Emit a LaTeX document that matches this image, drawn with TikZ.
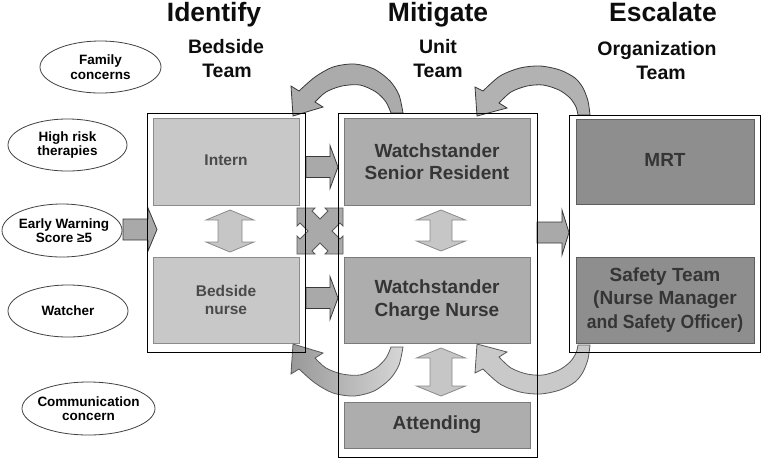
\documentclass[tikz,border=0pt]{standalone}
\usepackage{fontspec}
\setmainfont{Liberation Sans}
\usetikzlibrary{shapes.geometric}
\definecolor{bxL}{HTML}{C8C8C8}
\definecolor{bxLd}{HTML}{8C8C8C}
\definecolor{bxM}{HTML}{ADADAD}
\definecolor{bxMd}{HTML}{7A7A7A}
\definecolor{bxD}{HTML}{8E8E8E}
\definecolor{bxDd}{HTML}{5E5E5E}
\definecolor{txt}{HTML}{353535}
\definecolor{txtL}{HTML}{4A4A4A}
\definecolor{arF}{HTML}{A9A9A9}
\definecolor{arD}{HTML}{3A3A3A}
\definecolor{vaF}{HTML}{C6C6C6}
\definecolor{vaD}{HTML}{8A8A8A}
\newcommand\arrR[7]{\draw[#1] (#2,{#4-#5}) -- ({#3-#7},{#4-#5}) -- ({#3-#7},{#4-#6}) -- (#3,#4) -- ({#3-#7},{#4+#6}) -- ({#3-#7},{#4+#5}) -- (#2,{#4+#5}) -- cycle;}
\newcommand\arrUD[7]{\draw[#1] (#2,#3) -- ({#2+#6},{#3+#7}) -- ({#2+#5},{#3+#7}) -- ({#2+#5},{#4-#7}) -- ({#2+#6},{#4-#7}) -- (#2,#4) -- ({#2-#6},{#4-#7}) -- ({#2-#5},{#4-#7}) -- ({#2-#5},{#3+#7}) -- ({#2-#6},{#3+#7}) -- cycle;}
\begin{document}
\begin{tikzpicture}[x=1pt,y=-1pt,
  frame/.style={draw=black, line width=0.9pt, inner sep=0pt},
  ell/.style={ellipse, draw=black!75, line width=0.8pt, inner sep=0pt},
  elltext/.style={align=center, font=\fontsize{13.5}{14.5}\selectfont\bfseries, text=black},
  title/.style={font=\fontsize{26.5}{30}\selectfont\bfseries, text=black!95},
  subtitle/.style={font=\fontsize{19.5}{24}\selectfont\bfseries, text=black!95},
  boxL/.style={draw=bxLd, fill=bxL, line width=0.8pt, inner sep=0pt, text=txtL, align=center, font=\fontsize{15.5}{18}\selectfont\bfseries},
  boxM/.style={draw=bxMd, fill=bxM, line width=0.8pt, inner sep=0pt, text=txt, align=center, font=\fontsize{19}{22.5}\selectfont\bfseries},
  boxD/.style={draw=bxDd, fill=bxD, line width=0.8pt, inner sep=0pt, text=txt, align=center, font=\fontsize{19}{23.5}\selectfont\bfseries},
  sarrow/.style={draw=arD, fill=arF, line width=0.8pt, line join=miter},
  varrow/.style={draw=vaD, fill=vaF, line width=0.8pt},
  xarrow/.style={draw=black!65, fill=arF, line width=0.8pt},
  curvA/.style={draw=arD, fill=black!33, line width=0.8pt},
  curvB/.style={draw=arD, fill=black!30, line width=0.8pt},
  curvC/.style={draw=black!65, left color=black!40, right color=black!16, line width=0.8pt},
  curvD/.style={draw=black!65, fill=black!21, line width=0.8pt}]
\useasboundingbox (0,0) rectangle (763,459);

% titles
\node[title, anchor=base] (tI) at (214,21) {Identify};
\node[title, anchor=base] (tM) at (438,21) {Mitigate};
\node[title, anchor=base] (tE) at (663,21) {Escalate};
\node[subtitle, anchor=base] (s1a) at (226,53) {Bedside};
\node[subtitle, anchor=base] (s1b) at (227,77) {Team};
\node[subtitle, anchor=base] (s2a) at (438,53) {Unit};
\node[subtitle, anchor=base] (s2b) at (438,77) {Team};
\node[subtitle, anchor=base] (s3a) at (657,55) {Organization};
\node[subtitle, anchor=base] (s3b) at (661,79) {Team};

% ellipses
\node[ell, minimum width=121pt, minimum height=52pt] (e1) at (100.5,67) {};
\node[elltext] (e1t) at (e1) {Family\\concerns};
\node[ell, minimum width=119pt, minimum height=52pt] (e2) at (67.5,145) {};
\node[elltext] (e2t) at (e2) {High risk\\therapies};
\node[ell, minimum width=120pt, minimum height=53pt] (e3) at (62,230.5) {};
\node[elltext] (e3t) at (64,230.5) {Early Warning\\Score ≥5};
\node[ell, minimum width=120pt, minimum height=52pt] (e4) at (68,311) {};
\node[elltext] (e4t) at (e4) {Watcher};
\node[ell, minimum width=133pt, minimum height=53pt] (e5) at (88.5,408.5) {};
\node[elltext] (e5t) at (e5) {Communication\\concern};

% boxes
\node[boxL, minimum width=146pt, minimum height=87pt] (intern) at (226,161.5) {\raisebox{3pt}{Intern}};
\node[boxL, minimum width=146pt, minimum height=86pt] (bnurse) at (226,300) {Bedside\\nurse};
\node[boxM, minimum width=186pt, minimum height=87pt] (wsr) at (437,161.5) {Watchstander\\Senior Resident};
\node[boxM, minimum width=186pt, minimum height=86pt] (wcn) at (437,300) {Watchstander\\Charge Nurse};
\node[boxM, minimum width=186pt, minimum height=46pt] (att) at (437,425) {Attending};
\node[boxD, minimum width=178pt, minimum height=85pt] (mrt) at (665,161.5) {\raisebox{4pt}{MRT}};
\node[boxD, minimum width=178pt, minimum height=86pt] (safety) at (665,300) {Safety Team\\(Nurse Manager\\\scalebox{0.925}[1]{and Safety Officer)}};

% straight block arrows
\arrR{sarrow}{306}{338}{167}{10.5}{21.5}{8}
\arrR{sarrow}{306}{338}{298}{10.5}{21.5}{8}
\arrR{sarrow}{123}{157}{229.5}{10.5}{21.5}{9}
\arrR{sarrow}{537}{569}{232.5}{10.5}{22.5}{7}

% vertical double arrows
\arrUD{varrow}{230}{210}{252}{12}{24}{10}
\arrUD{varrow}{441}{210}{251}{11}{24.5}{10}
\arrUD{varrow}{441}{348}{396}{11}{24.5}{10}

% four-way diagonal arrow
\draw[xarrow, shift={(320,231)}] (-23,-23) -- (-5,-23) -- (-8,-20) -- (0,-12) -- (8,-20) -- (5,-23) -- (23,-23) -- (23,-5) -- (20,-8) -- (12,0) -- (20,8) -- (23,5) -- (23,23) -- (5,23) -- (8,20) -- (0,12) -- (-8,20) -- (-5,23) -- (-23,23) -- (-23,5) -- (-20,8) -- (-12,0) -- (-20,-8) -- (-23,-5) -- cycle;

% curved arrows (top)
\draw[curvA] plot[smooth] coordinates {(403,113) (399,95) (390,81) (374,69) (354,64) (333,67) (315,77) (299,91)} -- (291,86) -- (293,116) -- (323,107) -- plot[smooth] coordinates {(315,102) (326,92) (342,86) (360,85) (376,92) (386,102) (391,113)} -- cycle;
\draw[curvB] plot[smooth] coordinates {(590,115) (588,101) (583,88) (575,78) (560,70) (540,66) (520,68) (500,76) (483,91)} -- (475,87) -- (477,116) -- (507,108) -- plot[smooth] coordinates {(499,103) (511,92) (527,86) (543,85) (559,90) (570,98) (576,107) (578,115)} -- cycle;
% curved arrows (bottom, mirrored)
\begin{scope}[shift={(0,460)}, yscale=-1]
\draw[curvC] plot[smooth] coordinates {(403,113) (399,95) (390,81) (374,69) (354,64) (333,67) (315,77) (299,91)} -- (291,86) -- (293,116) -- (323,107) -- plot[smooth] coordinates {(315,102) (326,92) (342,86) (360,85) (376,92) (386,102) (391,113)} -- cycle;
\draw[curvD] plot[smooth] coordinates {(590,115) (588,101) (583,88) (575,78) (560,70) (540,66) (520,68) (500,76) (483,91)} -- (475,87) -- (477,116) -- (507,108) -- plot[smooth] coordinates {(499,103) (511,92) (527,86) (543,85) (559,90) (570,98) (576,107) (578,115)} -- cycle;
\end{scope}

% frames
\node[frame, minimum width=158pt, minimum height=239pt] (fB) at (226,232.5) {};
\node[frame, minimum width=199pt, minimum height=344pt] (fU) at (437.5,285) {};
\node[frame, minimum width=191pt, minimum height=237pt] (fO) at (664.5,233.5) {};
\end{tikzpicture}
\end{document}
